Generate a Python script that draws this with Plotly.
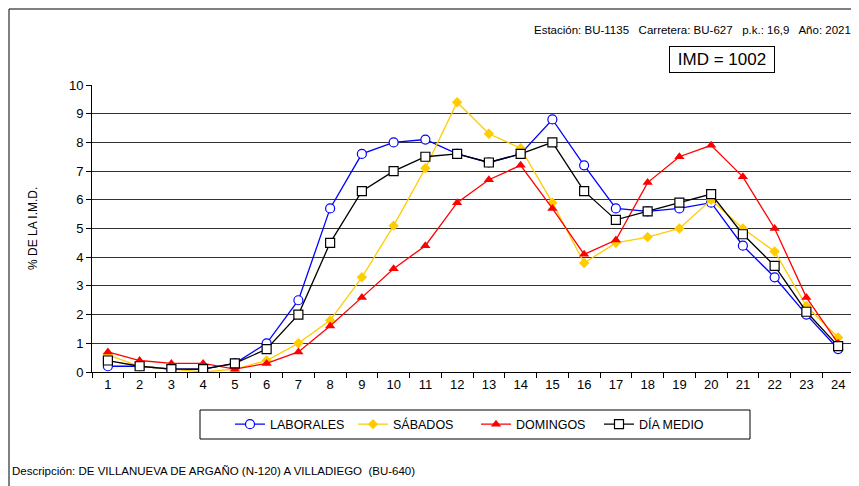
import plotly.graph_objects as go

# the page puts the figure 8 px in from the top-left corner
OFF = 8
W, H = 859 - OFF, 486 - OFF
L, R, T, B = 92, 854, 85, 372   # plot area in window pixels

horas = list(range(1, 25))
laborales = [0.2, 0.2, 0.1, 0.1, 0.3, 1.0, 2.5, 5.7, 7.6, 8.0, 8.1, 7.6,
             7.3, 7.6, 8.8, 7.2, 5.7, 5.6, 5.7, 5.9, 4.4, 3.3, 2.0, 0.8]
sabados = [0.6, 0.2, 0.1, 0.0, 0.1, 0.4, 1.0, 1.8, 3.3, 5.1, 7.1, 9.4,
           8.3, 7.8, 5.9, 3.8, 4.5, 4.7, 5.0, 6.0, 5.0, 4.2, 2.3, 1.2]
domingos = [0.7, 0.4, 0.3, 0.3, 0.1, 0.3, 0.7, 1.6, 2.6, 3.6, 4.4, 5.9,
            6.7, 7.2, 5.7, 4.1, 4.6, 6.6, 7.5, 7.9, 6.8, 5.0, 2.6, 1.0]
dia_medio = [0.4, 0.2, 0.1, 0.1, 0.3, 0.8, 2.0, 4.5, 6.3, 7.0, 7.5, 7.6,
             7.3, 7.6, 8.0, 6.3, 5.3, 5.6, 5.9, 6.2, 4.8, 3.7, 2.1, 0.9]

FONT = "Arial, Liberation Sans, sans-serif"


def px(x):
    return (x - L) / (R - L)


def py(y):
    return (B - y) / (B - T)


fig = go.Figure()

fig.add_trace(go.Scatter(x=horas, y=laborales, name="LABORALES", mode="lines+markers",
                         line=dict(color="#0000FF", width=1.3),
                         marker=dict(symbol="circle", size=9, color="white",
                                     line=dict(color="#0000FF", width=1.2))))
fig.add_trace(go.Scatter(x=horas, y=sabados, name="SÁBADOS", mode="lines+markers",
                         line=dict(color="#FFCC00", width=1.3),
                         marker=dict(symbol="diamond", size=8, color="#FFCC00")))
fig.add_trace(go.Scatter(x=horas, y=domingos, name="DOMINGOS", mode="lines+markers",
                         line=dict(color="#FF0000", width=1.3),
                         marker=dict(symbol="triangle-up", size=9, color="#FF0000")))
fig.add_trace(go.Scatter(x=horas, y=dia_medio, name="DÍA MEDIO", mode="lines+markers",
                         line=dict(color="black", width=1.3),
                         marker=dict(symbol="square", size=9, color="white",
                                     line=dict(color="black", width=1.2))))

fig.update_layout(
    width=W, height=H,
    margin=dict(l=L - OFF, r=859 - R, t=T - OFF, b=486 - B, autoexpand=False),
    paper_bgcolor="white", plot_bgcolor="white",
    font=dict(family=FONT, size=13, color="black"),
    xaxis=dict(range=[0.5, 24.5], tickvals=horas, ticks="", showgrid=False,
               showline=True, linecolor="black", linewidth=1, zeroline=False,
               tickfont=dict(size=13),
               minor=dict(ticks="outside", ticklen=5, tickcolor="black",
                          tick0=0.5, dtick=1, showgrid=False)),
    yaxis=dict(range=[0, 10], dtick=1, ticks="outside", ticklen=5, tickcolor="black",
               showgrid=True, gridcolor="#333333", gridwidth=1,
               showline=True, linecolor="black", linewidth=1, zeroline=False,
               tickfont=dict(size=13)),
    legend=dict(orientation="h", x=px(476), xanchor="center", y=py(424.5), yanchor="middle",
                borderwidth=0, bgcolor="rgba(0,0,0,0)",
                font=dict(size=12.5), entrywidth=78, itemwidth=30),
    showlegend=True,
)

# recuadro de la leyenda
fig.add_shape(type="rect", xref="paper", yref="paper",
              x0=px(200), x1=px(750), y0=py(410), y1=py(439),
              line=dict(color="black", width=1), layer="below")

fig.add_annotation(x=px(853), y=py(30), xref="paper", yref="paper",
                   xanchor="right", yanchor="middle", showarrow=False,
                   text="Estación: BU-1135   Carretera: BU-627   p.k.: 16,9   Año: 2021",
                   font=dict(size=11.5))
fig.add_annotation(x=px(722), y=py(59), xref="paper", yref="paper",
                   xanchor="center", yanchor="middle", showarrow=False,
                   text="IMD = 1002", font=dict(size=17),
                   bordercolor="black", borderwidth=1, borderpad=3, width=98)
fig.add_annotation(x=px(33), y=py(228), xref="paper", yref="paper",
                   xanchor="center", yanchor="middle", showarrow=False,
                   text="% DE LA I.M.D.", textangle=-90, font=dict(size=12))
fig.add_annotation(x=px(10), y=py(471), xref="paper", yref="paper",
                   xanchor="left", yanchor="middle", showarrow=False,
                   text="Descripción: DE VILLANUEVA DE ARGAÑO (N-120) A VILLADIEGO  (BU-640)",
                   font=dict(size=11.5))

# marco exterior (arriba e izquierda)
fig.add_shape(type="line", xref="paper", yref="paper",
              x0=px(9), x1=px(854), y0=py(9), y1=py(9), line=dict(color="black", width=1))
fig.add_shape(type="line", xref="paper", yref="paper",
              x0=px(9), x1=px(9), y0=py(9), y1=py(486), line=dict(color="black", width=1))

fig.write_html("out.html")
